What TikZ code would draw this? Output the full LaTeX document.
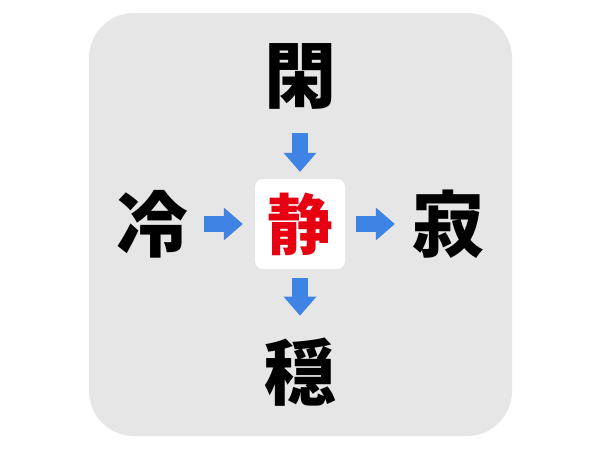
\documentclass[tikz,border=0pt]{standalone}
\usepackage{fontspec}
\usepackage{tikz}
\usetikzlibrary{arrows.meta,positioning}
\newfontfamily\cjk{Noto Sans CJK JP}
\definecolor{panelgray}{HTML}{E6E6E6}
\definecolor{arrowblue}{HTML}{3F84E5}
\definecolor{answerred}{HTML}{E60012}
\newcommand{\newKanji}[4]{\node[kanji,#3](#1)[#4]{#2};}
\newcommand{\newArrow}[3]{\path[hint] (#1) edge [#3] (#2); }

\begin{document}
\begin{tikzpicture}[
    % Pixel-like units, y downwards
    x=1pt,y=-1pt,
    % Default node distance
    node distance=148pt,
    % Characters and arrows
    kanji/.style={font=\cjk\bfseries\fontsize{72}{72}\selectfont,inner sep=0pt},
    answer/.style={fill=white,rounded corners=8pt,minimum size=90pt,
      text=answerred,font=\cjk\bfseries\fontsize{66}{66}\selectfont},
    hint/.style={draw=arrowblue,line width=16pt,
      -{Triangle[width=33pt,length=19pt,line width=0pt,color=arrowblue,fill=arrowblue]}}
    ]

    \fill[white] (0,0) rectangle (600,450);
    \fill[panelgray,rounded corners=45pt] (89,13) rectangle (512,436);

    \newKanji{sei}{静}{answer}{at={(300,224)}}
    \newKanji{kan}{閑}{above of=sei}{}
    \newKanji{rei}{冷}{left of=sei}{}
    \newKanji{jaku}{寂}{right of=sei}{}
    \newKanji{on}{穏}{below of=sei}{}

    \newArrow{rei}{sei}{shorten <=16pt,shorten >=12pt}
    \newArrow{sei}{jaku}{shorten <=11pt,shorten >=17pt}
    \newArrow{kan}{sei}{shorten <=24pt,shorten >=7pt}
    \newArrow{sei}{on}{shorten <=9pt,shorten >=22pt}
  \end{tikzpicture}
\end{document}
